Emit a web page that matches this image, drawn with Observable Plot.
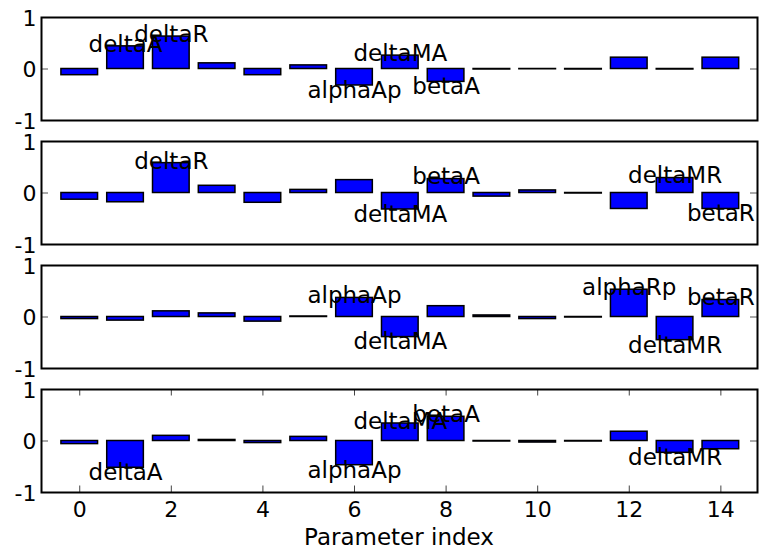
<!DOCTYPE html>
<html>
<head>
<meta charset="utf-8">
<script src="https://cdn.jsdelivr.net/npm/d3@7"></script>
<script src="https://cdn.jsdelivr.net/npm/@observablehq/plot@0.6"></script>
<style>
  html, body { margin: 0; padding: 0; background: white; }
</style>
</head>
<body>
<div id="chart"></div>
<script>
// Parameter indices and names
const paramIndex = d3.range(15);
const paramNames = ["", "deltaA", "deltaR", "", "", "", "alphaAp", "deltaMA", "betaA", "", "", "", "alphaRp", "deltaMR", "betaR"];

// Bar values per panel (top to bottom)
const panel1 = [-0.12, 0.44, 0.63, 0.11, -0.12, 0.07, -0.32, 0.26, -0.25, -0.01, -0.005, -0.01, 0.22, -0.01, 0.22];
const panel2 = [-0.13, -0.18, 0.58, 0.14, -0.19, 0.06, 0.25, -0.32, 0.27, -0.07, 0.05, -0.01, -0.31, 0.29, -0.31];
const panel3 = [-0.04, -0.07, 0.11, 0.07, -0.09, 0.01, 0.37, -0.39, 0.21, 0.03, -0.04, -0.01, 0.53, -0.45, 0.33];
const panel4 = [-0.06, -0.52, 0.10, 0.02, -0.04, 0.08, -0.47, 0.34, 0.47, -0.01, -0.03, -0.01, 0.18, -0.23, -0.16];

// Labelled parameters per panel
const labels1 = [1, 2, 6, 7, 8];
const labels2 = [2, 7, 8, 13, 14];
const labels3 = [6, 7, 12, 13, 14];
const labels4 = [1, 6, 7, 8, 13];

const yTicks = [-1, 0, 1];
const xTicks = [0, 2, 4, 6, 8, 10, 12, 14];
const xLabel = "Parameter index";

const panels = [panel1, panel2, panel3, panel4];
const labelSets = [labels1, labels2, labels3, labels4];
const bottomPanel = panels.length - 1;

const rows = [];
panels.forEach((vals, p) => paramIndex.forEach(i => rows.push({panel: p, i, v: vals[i]})));
const labelRows = [];
labelSets.forEach((idx, p) => idx.forEach(i => labelRows.push({panel: p, i, v: panels[p][i], name: paramNames[i]})));
const xTickRows = xTicks.map(x => ({x, panel: bottomPanel}));

const fmt = d => String(d);
const W = 759, ML = 41, MR = 2;
const plotW = W - ML - MR;
const bandH = 103.5;
const TICK = 7;

const chart = Plot.plot({
  width: W,
  height: 552,
  marginLeft: ML,
  marginRight: MR,
  marginTop: 17,
  marginBottom: 59,
  style: {fontFamily: "DejaVu Sans", fontSize: "22px", background: "white", color: "black"},
  x: {domain: [-0.835, 14.8]},
  y: {domain: [-1, 1]},
  fy: {domain: [0, 1, 2, 3], paddingInner: 0.166, paddingOuter: 0, axis: null},
  marks: [
    // inward y ticks (left and right)
    Plot.tickY(yTicks, {y: d => d, insetRight: plotW - TICK, stroke: "#555", strokeWidth: 1}),
    Plot.tickY(yTicks, {y: d => d, insetLeft: plotW - TICK, stroke: "#555", strokeWidth: 1}),
    // inward x ticks on bottom panel (top and bottom edges)
    Plot.tickX(xTickRows, {x: "x", fy: "panel", insetBottom: bandH - TICK, stroke: "#444", strokeWidth: 1}),
    Plot.tickX(xTickRows, {x: "x", fy: "panel", insetTop: bandH - TICK, stroke: "#444", strokeWidth: 1}),
    Plot.rect(rows, {
      x1: d => d.i - 0.4, x2: d => d.i + 0.4, y1: 0, y2: "v", fy: "panel",
      fill: "#0000ff", stroke: "black", strokeWidth: 1.5
    }),
    Plot.text(labelRows.filter(d => d.v >= 0), {
      x: "i", y: "v", fy: "panel", text: "name", fill: "black",
      fontSize: 23, dy: -2
    }),
    Plot.text(labelRows.filter(d => d.v < 0), {
      x: "i", y: "v", fy: "panel", text: "name", fill: "black",
      fontSize: 23, dy: 5
    }),
    Plot.frame({stroke: "black", strokeWidth: 2}),
    Plot.axisY({ticks: yTicks, tickSize: 0, tickPadding: 5, tickFormat: fmt, label: null, fontSize: 22, dy: 1}),
    Plot.axisX({ticks: xTicks, tickSize: 0, tickPadding: 9, tickFormat: fmt, fontSize: 22,
      label: null})
  ]
});

// x-axis title as real SVG text inside the chart
const svg = d3.select(chart.tagName.toLowerCase() === "svg" ? chart : chart.querySelector("svg"));
svg.append("text")
  .attr("x", ML + plotW / 2)
  .attr("y", 545)
  .attr("text-anchor", "middle")
  .attr("font-family", "DejaVu Sans")
  .attr("font-size", 23)
  .attr("fill", "black")
  .text(xLabel);

document.getElementById("chart").appendChild(chart);
</script>
</body>
</html>
